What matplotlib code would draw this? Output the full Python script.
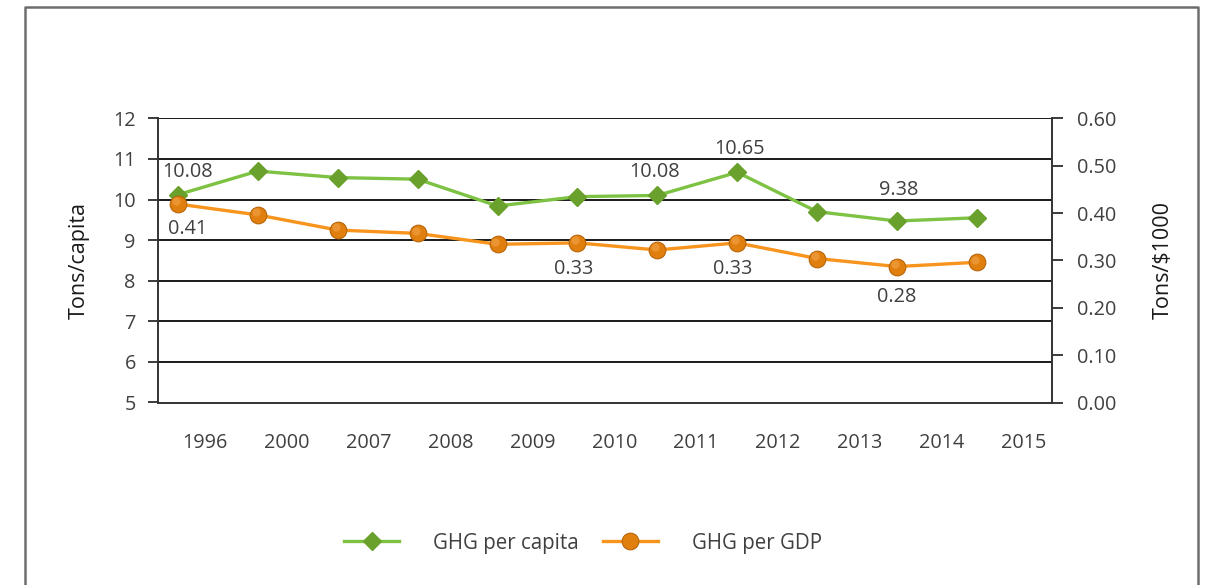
import matplotlib
matplotlib.use("Agg")
import matplotlib.pyplot as plt
import matplotlib.transforms as mtransforms
from matplotlib.lines import Line2D
import numpy as np

plt.rcParams['font.family'] = ['Open Sans', 'DejaVu Sans']

years = ["1996", "2000", "2007", "2008", "2009", "2010", "2011", "2012", "2013", "2014", "2015"]
ghg_per_capita = [10.12, 10.70, 10.54, 10.50, 9.84, 10.07, 10.10, 10.67, 9.70, 9.47, 9.55]
ghg_per_gdp = [0.419, 0.396, 0.364, 0.357, 0.334, 0.337, 0.322, 0.337, 0.304, 0.287, 0.296]

capita_labels = {0: "10.08", 6: "10.08", 7: "10.65", 9: "9.38"}
gdp_labels = {0: "0.41", 5: "0.33", 7: "0.33", 9: "0.28"}

left_ticks = [5, 6, 7, 8, 9, 10, 11, 12]
right_ticks = [0.0, 0.1, 0.2, 0.3, 0.4, 0.5, 0.6]

TEXT = '#404040'
GREEN_LINE = '#7DC242'
GREEN_MARK = '#6AA12D'
ORANGE_LINE = '#F7941D'
ORANGE_MARK = '#E07F0E'
FS = 14.3

fig = plt.figure(figsize=(12.08, 5.85), dpi=100)
ax = fig.add_axes([158/1208, 1-402.5/585, (1052-158)/1208, (402.5-118.3)/585])
ax2 = ax.twinx()

x = np.arange(len(years))
ax.set_xlim(-0.25, 10.94)
ax.set_ylim(5, 12)
ax2.set_ylim(0, 0.6)

# gridlines
for v in left_ticks[1:]:
    ax.axhline(v, color='#1a1a1a', lw=1.4, zorder=1)

l1, = ax.plot(x, ghg_per_capita, color=GREEN_LINE, lw=2.4, marker='D', markersize=9.5,
              markerfacecolor=GREEN_MARK, markeredgecolor=GREEN_MARK, zorder=5, clip_on=False)
l2, = ax2.plot(x, ghg_per_gdp, color=ORANGE_LINE, lw=2.4, marker='o', markersize=12,
               markerfacecolor=ORANGE_MARK, markeredgecolor='#B8650A', markeredgewidth=0.8,
               zorder=5, clip_on=False)
# soft highlight on spheres
hl_tr = ax2.transData + mtransforms.ScaledTranslation(-1.5/72, 2/72, fig.dpi_scale_trans)
ax2.plot(x, ghg_per_gdp, linestyle='none', marker='o', markersize=6, markerfacecolor='#F2A54A',
         markeredgecolor='none', alpha=0.6, transform=hl_tr, zorder=6, clip_on=False)

# x tick labels (offset from points as in original)
tick_pos = 0.34 + np.arange(len(years)) * 1.024
ax.set_xticks(tick_pos)
ax.set_xticklabels(years)
ax.tick_params(axis='x', length=0, pad=22, labelsize=FS, labelcolor=TEXT)

ax.set_yticks(left_ticks)
ax.tick_params(axis='y', length=7, width=1.2, pad=9, labelsize=FS, labelcolor=TEXT, color='#1a1a1a')
ax2.set_yticks(right_ticks)
ax2.set_yticklabels([f"{v:.2f}" for v in right_ticks])
ax2.tick_params(axis='y', length=8, width=1.2, pad=10, labelsize=FS, labelcolor=TEXT, color='#1a1a1a')

for a in (ax, ax2):
    a.spines['top'].set_visible(False)
    for s in ('left', 'right', 'bottom'):
        a.spines[s].set_color('#333333')
        a.spines[s].set_linewidth(1.4)
ax.spines['right'].set_visible(False)
ax2.spines['left'].set_visible(False)
ax2.spines['bottom'].set_visible(False)

ax.set_ylabel("Tons/capita", fontsize=15.5, color='#1a1a1a', fontweight='medium', labelpad=17)
ax2.set_ylabel("Tons/$1000", fontsize=15.5, color='#1a1a1a', fontweight='medium', labelpad=26)

# data labels
cap_off = {0: (7, 16), 6: (-2, 17), 7: (2, 17), 9: (1, 22)}
gdp_off = {0: (7, -18), 5: (-3, -19), 7: (-3, -19), 9: (0, -22)}
for i, t in capita_labels.items():
    ax.annotate(t, (x[i], ghg_per_capita[i]), xytext=cap_off[i], textcoords='offset points',
                ha='center', va='center', fontsize=FS, color=TEXT, zorder=7)
for i, t in gdp_labels.items():
    ax2.annotate(t, (x[i], ghg_per_gdp[i]), xytext=gdp_off[i], textcoords='offset points',
                 ha='center', va='center', fontsize=FS, color=TEXT, zorder=7)

# legend
h1 = Line2D([], [], color=GREEN_LINE, lw=2.4, marker='D', markersize=9.5,
            markerfacecolor=GREEN_MARK, markeredgecolor=GREEN_MARK)
h2 = Line2D([], [], color=ORANGE_LINE, lw=2.4, marker='o', markersize=12,
            markerfacecolor=ORANGE_MARK, markeredgecolor='#B8650A', markeredgewidth=0.8)
fig.legend([h1, h2], ["GHG per capita", "GHG per GDP"], loc='center', bbox_to_anchor=(583/1208, 1-543/585),
           ncol=2, frameon=False, fontsize=14.8, handlelength=2.7, handletextpad=1.65, columnspacing=1.15,
           labelcolor=TEXT)

# outer frame
fx0, fx1, fy1 = 25/1208, 1198/1208, 1-7/585
fig.add_artist(Line2D([fx0, fx0, fx1, fx1], [-0.05, fy1, fy1, -0.05], transform=fig.transFigure,
                      color='#6e6e6e', lw=1.8))

fig.savefig("out.png", dpi=100)
